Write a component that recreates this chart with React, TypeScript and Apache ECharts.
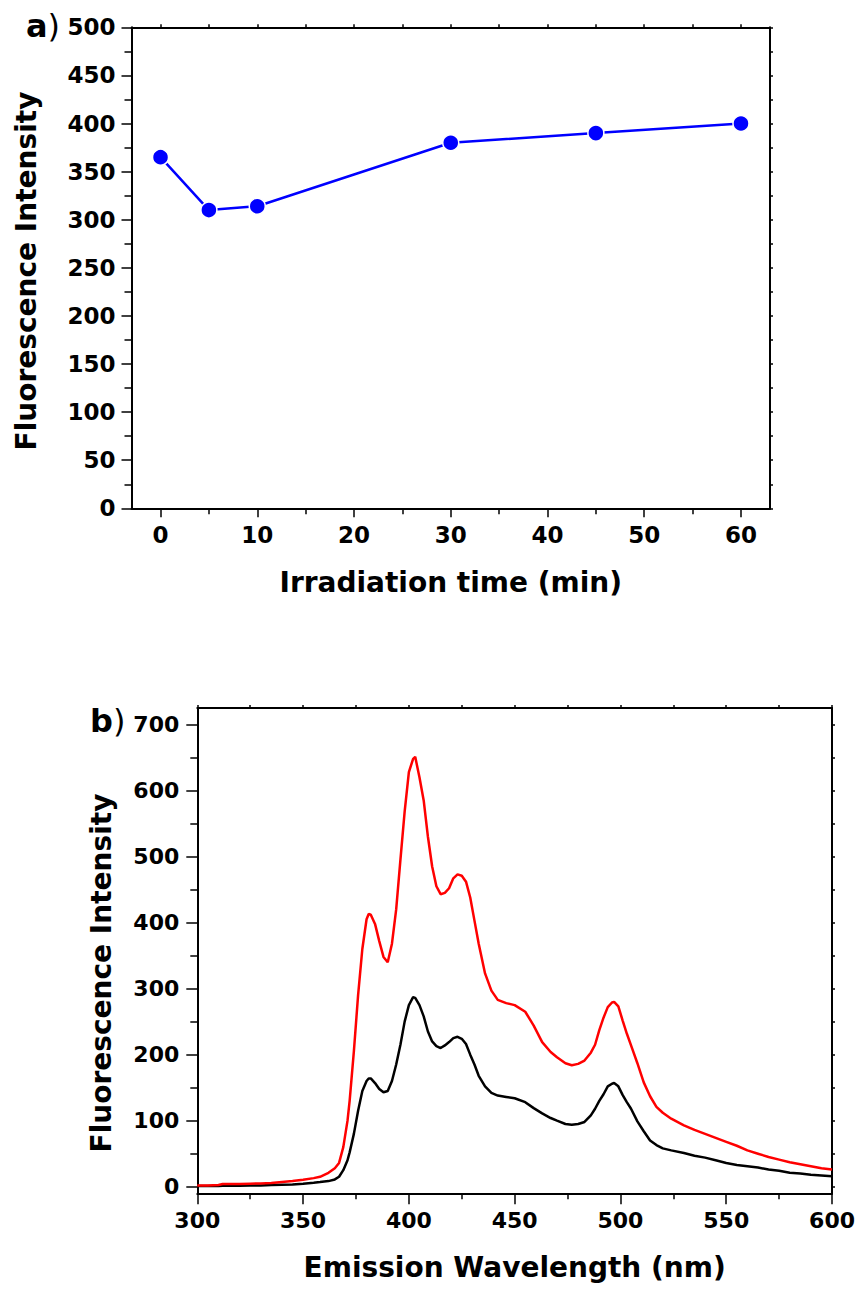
import React, { useEffect, useRef } from "react";
import * as echarts from "echarts";

// ---- Panel a data ----
const timeMin = [0, 5, 10, 30, 45, 60];
const intensityA = [365, 310, 314, 380, 390, 400];
const timeTicks = [0, 10, 20, 30, 40, 50, 60];
const timeMinorTicks = [5, 15, 25, 35, 45, 55];
const timeTopTicks = [0, 5, 10, 15, 20, 25, 30, 35, 40, 45, 50, 55, 60];

// ---- Panel b data ----
const wavelength = [
  300, 305, 310, 312, 315, 320, 325, 330, 335, 340, 345, 350, 355, 358, 362, 365, 367, 369, 371, 372,
  374, 376, 378, 380, 381, 382, 384, 386, 388, 390, 392, 394, 396, 398, 400, 402, 403, 405, 407, 409,
  411, 413, 415, 417, 419, 421, 423, 425, 427, 429, 431, 433, 436, 439, 442, 446, 450, 455, 459, 463,
  467, 470, 474, 477, 480, 483, 486, 488, 490, 492, 494, 496, 497, 499, 501, 503, 505, 508, 511, 514,
  517, 520, 524, 530, 535, 540, 545, 550, 555, 560, 565, 570, 575, 580, 585, 590, 595, 600,
];
const redSpectrum = [
  2, 2, 2.5, 4, 4, 4, 4.5, 5, 5.5, 7, 8.5, 10.5, 13, 15, 21, 28, 36, 60, 100, 130,
  205, 290, 360, 405, 413, 412, 398, 372, 348, 340, 368, 420, 495, 568, 628, 648, 651, 620, 585, 530,
  485, 455, 443, 445, 452, 467, 473, 471, 462, 438, 403, 368, 323, 297, 283, 278, 275, 265, 244, 219,
  204, 196, 187, 184, 186, 191, 203, 215, 237, 256, 272, 279, 280, 273, 252, 232, 214, 187, 158, 137,
  121, 112, 103, 93, 86, 80, 74, 68, 62, 55, 50, 45, 41, 37, 34, 31, 28, 26,
];
const blackSpectrum = [
  1, 1, 1, 1.5, 1.5, 1.5, 2, 2, 2.5, 3, 3.5, 4.5, 6, 7, 8.5, 11, 15, 25, 40, 52,
  80, 115, 145, 160, 164, 164, 157, 148, 143, 145, 160, 185, 215, 250, 275, 287, 286, 275, 258, 235,
  220, 213, 210, 214, 219, 225, 227, 224, 216, 200, 185, 168, 152, 142, 138, 136, 134, 128, 119, 111,
  104, 100, 95, 94, 95, 98, 108, 118, 130, 140, 152, 156, 157, 152, 139, 128, 118, 99, 84, 70,
  63, 58, 55, 51, 47, 44, 40, 36, 33, 31, 29, 26, 24, 21, 20, 18, 17, 16,
];
const intensityBTicks = [0, 100, 200, 300, 400, 500, 600, 700];
const intensityBMinor = [50, 150, 250, 350, 450, 550, 650];
const intensityBRight = [0, 50, 100, 150, 200, 250, 300, 350, 400, 450, 500, 550, 600, 650, 700];

const FONT = "DejaVu Sans";
const BLACK = "#000";

export default function App() {
  const ref = useRef<HTMLDivElement>(null);

  useEffect(() => {
    if (!ref.current) return;
    const chart = echarts.init(ref.current, null, { renderer: "svg" });

    const lineStyle = { color: BLACK, width: 2 };
    const tickStyle = { color: BLACK, width: 1.5 };
    const tickLabel = (size: number, margin: number) => ({
      fontSize: size,
      fontWeight: "bold" as const,
      fontFamily: FONT,
      color: BLACK,
      margin,
    });
    const titleStyle = { fontSize: 28, fontWeight: "bold" as const, fontFamily: FONT, color: BLACK };

    const gridA = { left: 123.5, top: 19.3, width: 638.5, height: 481 };
    const gridB = { left: 189.3, top: 700, width: 639.4, height: 485.3 };

    const option: any = {
      animation: false,
      backgroundColor: "#fff",
      grid: [gridA, { ...gridA }, gridB, { ...gridB }],
      xAxis: [
        {
          gridIndex: 0, type: "value", min: -3, max: 63, position: "bottom",
          axisLine: { show: true, onZero: false, lineStyle },
          axisTick: { show: true, customValues: timeTicks, length: 9, lineStyle: tickStyle },
          axisLabel: { customValues: timeTicks, ...tickLabel(23, 15) },
          splitLine: { show: false },
          name: "Irradiation time (min)", nameLocation: "middle", nameGap: 60,
          nameTextStyle: titleStyle,
        },
        {
          gridIndex: 0, type: "value", min: -3, max: 63, position: "top",
          axisLine: { show: true, onZero: false, lineStyle },
          axisTick: { show: true, customValues: timeTopTicks, length: 3, lineStyle: tickStyle },
          axisLabel: { show: false },
          splitLine: { show: false },
        },
        {
          gridIndex: 1, type: "value", min: -3, max: 63, position: "bottom",
          axisLine: { show: false, onZero: false },
          axisTick: { show: true, customValues: timeMinorTicks, length: 6, lineStyle: tickStyle },
          axisLabel: { show: false },
          splitLine: { show: false },
        },
        {
          gridIndex: 2, type: "value", min: 300, max: 600, interval: 50, position: "bottom",
          axisLine: { show: true, onZero: false, lineStyle },
          axisTick: { show: true, length: 11, lineStyle: tickStyle },
          minorTick: { show: true, splitNumber: 2, length: 6, lineStyle: tickStyle },
          axisLabel: tickLabel(22, 16),
          splitLine: { show: false },
          minorSplitLine: { show: false },
          name: "Emission Wavelength (nm)", nameLocation: "middle", nameGap: 60,
          nameTextStyle: titleStyle,
        },
        {
          gridIndex: 2, type: "value", min: 300, max: 600, interval: 25, position: "top",
          axisLine: { show: true, onZero: false, lineStyle },
          axisTick: { show: true, length: 3, lineStyle: tickStyle },
          axisLabel: { show: false },
          splitLine: { show: false },
        },
        { gridIndex: 3, type: "value", min: 300, max: 600, show: false },
      ],
      yAxis: [
        {
          gridIndex: 0, type: "value", min: 0, max: 500, interval: 50, position: "left",
          axisLine: { show: true, onZero: false, lineStyle },
          axisTick: { show: true, length: 10, lineStyle: tickStyle },
          minorTick: { show: true, splitNumber: 2, length: 7, lineStyle: tickStyle },
          axisLabel: tickLabel(23, 16),
          splitLine: { show: false },
          minorSplitLine: { show: false },
        },
        {
          gridIndex: 0, type: "value", min: 0, max: 500, interval: 25, position: "right",
          axisLine: { show: true, onZero: false, lineStyle },
          axisTick: { show: true, length: 3, lineStyle: tickStyle },
          axisLabel: { show: false },
          splitLine: { show: false },
        },
        { gridIndex: 1, type: "value", min: 0, max: 500, show: false },
        {
          gridIndex: 2, type: "value", min: -10, max: 725, position: "left",
          axisLine: { show: true, onZero: false, lineStyle },
          axisTick: { show: true, customValues: intensityBTicks, length: 11, lineStyle: tickStyle },
          axisLabel: { customValues: intensityBTicks, ...tickLabel(22, 18) },
          splitLine: { show: false },
        },
        {
          gridIndex: 2, type: "value", min: -10, max: 725, position: "right",
          axisLine: { show: true, onZero: false, lineStyle },
          axisTick: { show: true, customValues: intensityBRight, length: 3, lineStyle: tickStyle },
          axisLabel: { show: false },
          splitLine: { show: false },
        },
        {
          gridIndex: 3, type: "value", min: -10, max: 725, position: "left",
          axisLine: { show: false, onZero: false },
          axisTick: { show: true, customValues: intensityBMinor, length: 7, lineStyle: tickStyle },
          axisLabel: { show: false },
          splitLine: { show: false },
        },
      ],
      series: [
        {
          type: "line",
          xAxisIndex: 0,
          yAxisIndex: 0,
          data: timeMin.map((t, i) => [t, intensityA[i]]),
          symbol: "circle",
          symbolSize: 16,
          showSymbol: true,
          lineStyle: { color: "#0000ff", width: 2.5 },
          itemStyle: { color: "#0000ff", borderColor: "#fff", borderWidth: 1.5 },
          z: 5,
        },
        {
          type: "line",
          xAxisIndex: 3,
          yAxisIndex: 3,
          data: wavelength.map((w, i) => [w, blackSpectrum[i]]),
          showSymbol: false,
          symbol: "none",
          lineStyle: { color: "#000", width: 2.5 },
          z: 4,
        },
        {
          type: "line",
          xAxisIndex: 3,
          yAxisIndex: 3,
          data: wavelength.map((w, i) => [w, redSpectrum[i]]),
          showSymbol: false,
          symbol: "none",
          lineStyle: { color: "#ff0000", width: 2.5 },
          z: 5,
        },
      ],
      graphic: [
        {
          type: "text", x: 18.7, y: 263, rotation: Math.PI / 2,
          style: {
            text: "Fluorescence Intensity", fill: BLACK,
            fontSize: 28, fontWeight: "bold", fontFamily: FONT,
            align: "center", verticalAlign: "middle",
          },
        },
        {
          type: "text", x: 93.3, y: 965, rotation: Math.PI / 2,
          style: {
            text: "Fluorescence Intensity", fill: BLACK,
            fontSize: 28, fontWeight: "bold", fontFamily: FONT,
            align: "center", verticalAlign: "middle",
          },
        },
        {
          type: "text", x: 18, y: 18,
          style: {
            text: "{b|a}{p|)}", fill: BLACK, align: "left", verticalAlign: "middle",
            rich: {
              b: { fontSize: 32, fontWeight: "bold", fontFamily: FONT, fill: BLACK },
              p: { fontSize: 32, fontWeight: "normal", fontFamily: FONT, fill: BLACK },
            },
          },
        },
        {
          type: "text", x: 82, y: 713,
          style: {
            text: "{b|b}{p|)}", fill: BLACK, align: "left", verticalAlign: "middle",
            rich: {
              b: { fontSize: 32, fontWeight: "bold", fontFamily: FONT, fill: BLACK },
              p: { fontSize: 32, fontWeight: "normal", fontFamily: FONT, fill: BLACK },
            },
          },
        },
      ],
    };

    chart.setOption(option);
    return () => chart.dispose();
  }, []);

  return <div ref={ref} style={{ width: 850, height: 1277 }} />;
}
